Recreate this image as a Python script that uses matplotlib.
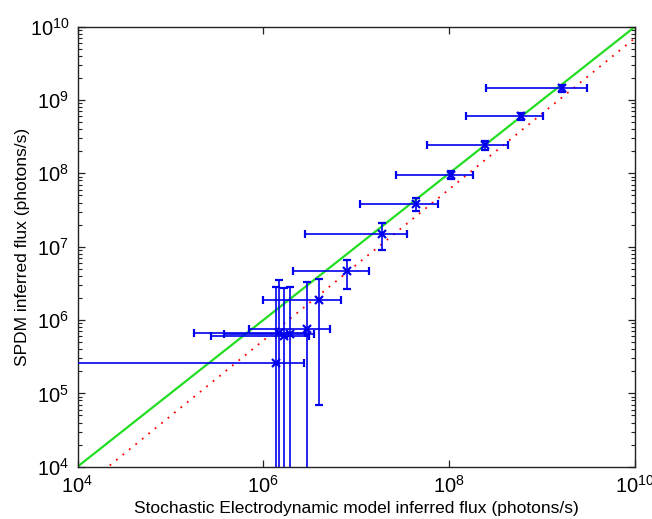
import matplotlib
matplotlib.use('Agg')
import matplotlib.pyplot as plt
import numpy as np

plt.rcParams['font.family'] = ['Liberation Sans', 'DejaVu Sans']
plt.rcParams['mathtext.default'] = 'regular'

# Stochastic Electrodynamic model flux (x) and SPDM flux (y), with 1-sigma errors
sed_flux = [1.37e6, 1.48e6, 1.67e6, 1.94e6, 2.95e6, 3.93e6, 7.87e6,
            1.88e7, 4.36e7, 1.04e8, 2.43e8, 5.90e8, 1.63e9]
sed_err = [1.40e6, 1.30e6, 1.40e6, 1.56e6, 2.25e6, 2.95e6, 5.80e6,
           1.60e7, 3.25e7, 7.70e7, 1.85e8, 4.40e8, 1.38e9]
spdm_flux = [2.57e5, 6.59e5, 5.96e5, 6.38e5, 7.55e5, 1.87e6, 4.66e6,
             1.49e7, 3.82e7, 9.50e7, 2.42e8, 6.05e8, 1.45e9]
spdm_err = [2.54e6, 2.86e6, 2.10e6, 2.20e6, 2.54e6, 1.80e6, 2.00e6,
            6.00e6, 7.60e6, 1.10e7, 3.30e7, 6.50e7, 1.70e8]

# power-law fit y = fit_coef * x**fit_exp (red dotted)
fit_coef = 0.343
fit_exp = 1.031

axis_min = 1e4
axis_max = 1e10
x_ticks = [1e4, 1e6, 1e8, 1e10]
y_ticks = [1e4, 1e5, 1e6, 1e7, 1e8, 1e9, 1e10]

fig = plt.figure(figsize=(6.52, 5.19), dpi=100)
ax = fig.add_axes([0.1189, 0.1008, 0.855, 0.8478])

# identity line
line_x = np.array([axis_min, axis_max])
ax.plot(line_x, line_x, color='#22dd22', lw=1.6, zorder=2)

# fitted line
ax.plot(line_x, fit_coef * line_x ** fit_exp, color='red',
        lw=1.3, linestyle=(0, (1, 3.6)), zorder=2)

ax.errorbar(sed_flux, spdm_flux, xerr=sed_err, yerr=spdm_err,
            fmt='x', color='#0000ee', ecolor='#0000ee', elinewidth=1.2,
            capsize=3, capthick=1.2, markersize=6, mew=1.6, zorder=3)

ax.set_xscale('log')
ax.set_yscale('log')
ax.set_xlim(axis_min, axis_max)
ax.set_ylim(axis_min, axis_max)
ax.set_xticks(x_ticks)
ax.set_yticks(y_ticks)
ax.xaxis.set_minor_locator(matplotlib.ticker.NullLocator())
ax.yaxis.set_minor_locator(matplotlib.ticker.LogLocator(base=10, subs=np.arange(2, 10)))
ax.yaxis.set_minor_formatter(matplotlib.ticker.NullFormatter())

ax.tick_params(which='both', direction='in', top=True, right=True,
               labelsize=14.5, color='#222222')
ax.tick_params(which='major', length=5, width=0.9, pad=6)
ax.tick_params(which='minor', length=3, width=0.8)
for s in ax.spines.values():
    s.set_linewidth(1.0)
    s.set_color('#222222')

ax.set_xlabel('Stochastic Electrodynamic model inferred flux (photons/s)',
              fontsize=12.5, labelpad=3)
ax.set_ylabel('SPDM inferred flux (photons/s)', fontsize=12.5, labelpad=0)

plt.savefig('out.png', dpi=100, facecolor='white')
plt.close()
